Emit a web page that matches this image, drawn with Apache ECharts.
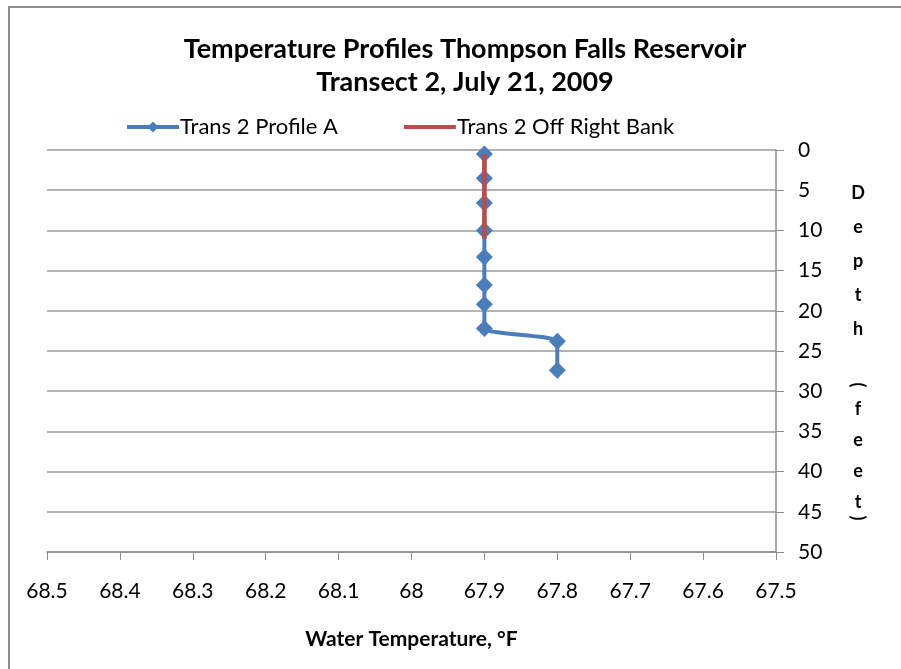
<!DOCTYPE html>
<html lang="en">
<head>
    <meta charset="UTF-8">
    <title>Temperature Profiles</title>
    <script src="https://cdn.jsdelivr.net/npm/echarts@6/dist/echarts.min.js"></script>
    <style>
        body { margin: 0; background: #fff; }
    </style>
</head>
<body>
    <div id="main" style="width: 901px;height:669px;"></div>
    <script type="text/javascript">
        // Data: [temperature (F), depth (feet)]
        const profileATemp = [67.9, 67.9, 67.9, 67.9, 67.9, 67.9, 67.9, 67.9, 67.8, 67.8];
        const profileADepth = [0.5, 3.5, 6.6, 10, 13.3, 16.8, 19.2, 22.2, 23.8, 27.4];
        const rightBankTemp = [67.9, 67.9];
        const rightBankDepth = [0.5, 11];

        const font = 'Lato, "Open Sans", sans-serif';
        let myChart = echarts.init(document.getElementById('main'));

        // vertical, letter-stacked axis title like the original
        const nameStyle = { fontFamily: font, fontSize: 18, fontWeight: 'bold', fill: '#000', align: 'center', verticalAlign: 'middle' };

        let options = {
            backgroundColor: '#ffffff',
            animation: false,
            title: {
                text: 'Temperature Profiles Thompson Falls Reservoir\nTransect 2, July 21, 2009',
                left: 460,
                textAlign: 'center',
                top: 28,
                textStyle: { fontFamily: font, fontSize: 27, fontWeight: 'bold', color: '#000', lineHeight: 33 }
            },
            legend: {
                left: 120,
                top: 111,
                itemWidth: 52,
                itemHeight: 14,
                itemGap: 64,
                textStyle: { fontFamily: font, fontSize: 22, color: '#000', padding: [0, 0, 0, -4] },
                data: [
                    { name: 'Trans 2 Profile A', lineStyle: { width: 4 } },
                    { name: 'Trans 2 Off Right Bank', lineStyle: { width: 4 }, itemStyle: { opacity: 0 } }
                ]
            },
            grid: { left: 47, right: 125, top: 150, bottom: 117 },
            xAxis: {
                type: 'value',
                min: 67.5,
                max: 68.5,
                interval: 0.1,
                inverse: true,
                name: 'Water Temperature, °F',
                nameLocation: 'middle',
                nameGap: 77,
                nameTextStyle: { fontFamily: font, fontSize: 21, fontWeight: 'bold', color: '#000' },
                axisLine: { onZero: false, lineStyle: { color: '#8c8c8c', width: 1.5 } },
                axisTick: { show: true, length: 8, lineStyle: { color: '#8c8c8c' } },
                splitLine: { show: false },
                axisLabel: {
                    margin: 29,
                    fontFamily: font, fontSize: 21, color: '#000',
                    formatter: v => String(parseFloat(v.toFixed(1)))
                }
            },
            yAxis: {
                type: 'value',
                position: 'right',
                inverse: true,
                min: 0,
                max: 50,
                interval: 5,
                axisLine: { show: true, lineStyle: { color: '#8c8c8c', width: 1.5 } },
                axisTick: { show: true, length: 8, lineStyle: { color: '#8c8c8c' } },
                splitLine: { show: true, lineStyle: { color: '#9a9a9a', width: 1.5 } },
                axisLabel: { margin: 22, fontFamily: font, fontSize: 21, color: '#000' }
            },
            graphic: [{
                type: 'rect',
                shape: { x: 9, y: 7, width: 1000, height: 1000 },
                style: { fill: 'none', stroke: '#8c8c8c', lineWidth: 2 },
                z: 100
            }, {
                type: 'text', x: 858, y: 176,
                style: Object.assign({ text: 'D\ne\np\nt\nh', lineHeight: 34 }, nameStyle, { verticalAlign: 'top' })
            }, {
                type: 'text', x: 858, y: 385, rotation: -Math.PI / 2,
                style: Object.assign({ text: '(' }, nameStyle)
            }, {
                type: 'text', x: 858, y: 394,
                style: Object.assign({ text: 'f\ne\ne\nt', lineHeight: 31 }, nameStyle, { verticalAlign: 'top' })
            }, {
                type: 'text', x: 858, y: 518, rotation: -Math.PI / 2,
                style: Object.assign({ text: ')' }, nameStyle)
            }],
            series: [{
                name: 'Trans 2 Profile A',
                type: 'line',
                smooth: 0.2,
                symbol: 'path://M0,-1L1,0L0,1L-1,0Z',
                symbolSize: 17,
                color: '#4a7ebb',
                lineStyle: { width: 4, color: '#4a7ebb' },
                itemStyle: { color: '#4a7ebb' },
                z: 2,
                data: profileATemp.map((t, i) => [t, profileADepth[i]])
            }, {
                name: 'Trans 2 Off Right Bank',
                type: 'line',
                symbol: 'none',
                color: '#be4b48',
                lineStyle: { width: 4.5, color: '#be4b48' },
                z: 5,
                data: rightBankTemp.map((t, i) => [t, rightBankDepth[i]])
            }]
        };

        myChart.setOption(options);
    </script>
</body>
</html>
